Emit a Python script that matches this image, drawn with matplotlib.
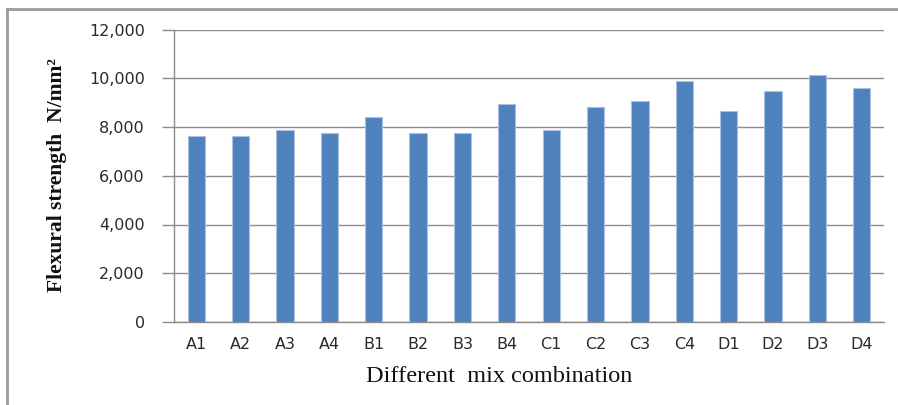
import matplotlib.pyplot as plt
from matplotlib.lines import Line2D
from matplotlib.ticker import FuncFormatter

# Flexural strength for each mix combination
mixes = ["A1", "A2", "A3", "A4", "B1", "B2", "B3", "B4",
         "C1", "C2", "C3", "C4", "D1", "D2", "D3", "D4"]
strength = [7630, 7630, 7870, 7750, 8410, 7750, 7750, 8930,
            7860, 8810, 9070, 9870, 8670, 9480, 10130, 9590]
y_ticks = [0, 2000, 4000, 6000, 8000, 10000, 12000]

W, H = 898, 405
fig = plt.figure(figsize=(W / 100, H / 100), dpi=100)
ax = fig.add_axes([174 / W, 1 - 322 / H, (884 - 174) / W, (322 - 29.5) / H])

grid_c = "#8c8c8c"
x = range(len(mixes))
ax.bar(x, strength, width=0.39, color="#4f81bd", edgecolor="#a9c1e0",
       linewidth=0.8, zorder=3)

ax.set_xlim(-0.5, len(mixes) - 0.5)
ax.set_ylim(0, 12000)
ax.set_yticks(y_ticks)
ax.yaxis.set_major_formatter(FuncFormatter(lambda v, p: f"{int(v):,}"))
ax.set_xticks(list(x))
ax.set_xticklabels(mixes)

ax.grid(axis="y", color=grid_c, linewidth=1.0, zorder=0)
for s in ["top", "right"]:
    ax.spines[s].set_visible(False)
ax.spines["left"].set_color(grid_c)
ax.spines["bottom"].set_color(grid_c)
ax.spines["left"].set_linewidth(1.0)
ax.spines["bottom"].set_linewidth(1.0)

tick_font = "DejaVu Sans"
ax.tick_params(axis="y", length=9, color=grid_c, width=1.0, pad=12,
               labelsize=11.5, labelcolor="#2a2a2a")
ax.tick_params(axis="x", length=0, pad=11, labelsize=11.5,
               labelcolor="#2a2a2a")
for lab in ax.get_xticklabels() + ax.get_yticklabels():
    lab.set_fontfamily(tick_font)

fig.text(499 / W, 1 - 376 / H, "Different  mix combination",
         ha="center", va="center", fontsize=17.5,
         fontfamily="Liberation Serif", color="#111111")
fig.text(57 / W, 1 - 175 / H, "Flexural strength  N/mm\u00b2",
         ha="center", va="center", rotation=90, fontsize=15.5,
         fontweight="bold", fontfamily="Liberation Serif", color="#111111")

# outer chart frame
frame_c = "#9a9a9a"
fig.add_artist(Line2D([7 / W, 7 / W], [0, 1 - 8.5 / H],
                      transform=fig.transFigure, color=frame_c, linewidth=2))
fig.add_artist(Line2D([7 / W, 1], [1 - 8.5 / H, 1 - 8.5 / H],
                      transform=fig.transFigure, color=frame_c, linewidth=2))

fig.savefig("out.png", dpi=100)
